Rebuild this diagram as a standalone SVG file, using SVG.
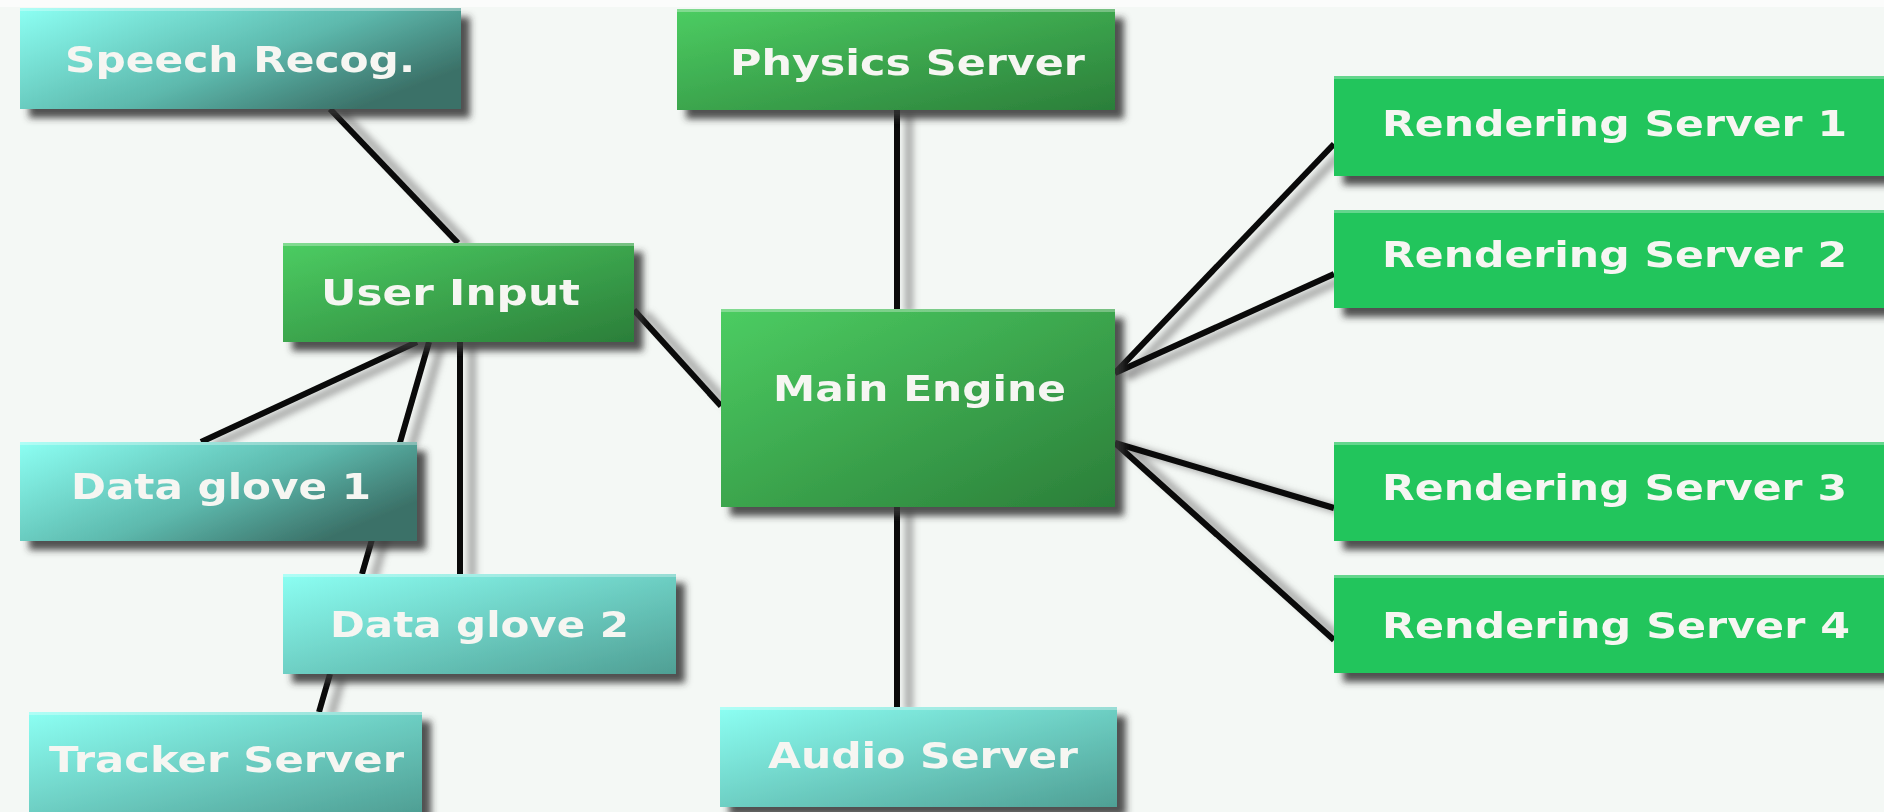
<svg xmlns="http://www.w3.org/2000/svg" width="1884" height="812" viewBox="0 0 1884 812">
<defs>
<linearGradient id="gGreen" x1="0" y1="0" x2="1" y2="1">
<stop offset="0" stop-color="#4ccd62"/>
<stop offset="1" stop-color="#2b7e39"/>
</linearGradient>
<linearGradient id="gTeal" x1="0" y1="0" x2="1" y2="1">
<stop offset="0" stop-color="#8cfff3"/>
<stop offset="1" stop-color="#4f9f94"/>
</linearGradient>
<linearGradient id="gTealDark" x1="0" y1="0" x2="1" y2="0.6">
<stop offset="0" stop-color="#8cfff3"/>
<stop offset="0.6" stop-color="#5db9ad"/>
<stop offset="1" stop-color="#3b7168"/>
</linearGradient>
<filter id="nodeShadow" x="-10%" y="-10%" width="130%" height="140%">
<feGaussianBlur in="SourceAlpha" stdDeviation="3.5"/>
<feOffset dx="9" dy="9" result="b"/>
<feFlood flood-color="#333333" flood-opacity="0.85"/>
<feComposite in2="b" operator="in"/>
<feMerge><feMergeNode/><feMergeNode in="SourceGraphic"/></feMerge>
</filter>
<filter id="lineShadow" x="-20%" y="-20%" width="140%" height="140%">
<feGaussianBlur stdDeviation="3"/>
</filter>
</defs>
<style>
.bg{fill:#f4f8f5}
.box{filter:url(#nodeShadow)}
.green{fill:url(#gGreen)}
.teal{fill:url(#gTeal)}
.tealdark{fill:url(#gTealDark)}
.render{fill:#22c55c}
.hl{fill:#ffffff;opacity:0.3}
.lbl{font-family:"DejaVu Sans","Verdana",sans-serif;font-weight:bold;font-size:35px;fill:#f6f6f2}
.edge{stroke:#0a0a0a;stroke-width:6;fill:none;stroke-linecap:butt}
.edgeShadow{stroke:#8a8a8a;stroke-width:9;fill:none;opacity:0.65}
</style>
<rect class="bg" x="0" y="0" width="1884" height="812"/>
<rect x="0" y="0" width="1884" height="7" fill="#fbfcfb"/>

<g id="connectors">
<g transform="translate(12,4)" filter="url(#lineShadow)">
<line class="edgeShadow" x1="330" y1="109" x2="458" y2="243"/>
<line class="edgeShadow" x1="417" y1="342" x2="201" y2="442"/>
<line class="edgeShadow" x1="429" y1="342" x2="362" y2="574"/>
<line class="edgeShadow" x1="460" y1="342" x2="460" y2="574"/>
<line class="edgeShadow" x1="330" y1="674" x2="319" y2="712"/>
<line class="edgeShadow" x1="634" y1="310" x2="721" y2="406"/>
<line class="edgeShadow" x1="897" y1="110" x2="897" y2="309"/>
<line class="edgeShadow" x1="897" y1="507" x2="897" y2="707"/>
<line class="edgeShadow" x1="1115" y1="373" x2="1334" y2="144"/>
<line class="edgeShadow" x1="1115" y1="373" x2="1334" y2="274"/>
<line class="edgeShadow" x1="1115" y1="443" x2="1334" y2="508"/>
<line class="edgeShadow" x1="1115" y1="443" x2="1334" y2="640"/>
</g>
<line class="edge" x1="330" y1="109" x2="458" y2="243"/>
<line class="edge" x1="417" y1="342" x2="201" y2="442"/>
<line class="edge" x1="429" y1="342" x2="362" y2="574"/>
<line class="edge" x1="460" y1="342" x2="460" y2="574"/>
<line class="edge" x1="330" y1="674" x2="319" y2="712"/>
<line class="edge" x1="634" y1="310" x2="721" y2="406"/>
<line class="edge" x1="897" y1="110" x2="897" y2="309"/>
<line class="edge" x1="897" y1="507" x2="897" y2="707"/>
<line class="edge" x1="1115" y1="373" x2="1334" y2="144"/>
<line class="edge" x1="1115" y1="373" x2="1334" y2="274"/>
<line class="edge" x1="1115" y1="443" x2="1334" y2="508"/>
<line class="edge" x1="1115" y1="443" x2="1334" y2="640"/>
</g>

<g id="speech-recog">
<rect class="box tealdark" x="20" y="8" width="441" height="101"/>
<rect class="hl" x="20" y="8" width="441" height="3"/>
<text class="lbl" x="65" y="72" textLength="350" lengthAdjust="spacingAndGlyphs">Speech Recog.</text>
</g>
<g id="user-input">
<rect class="box green" x="283" y="243" width="351" height="99"/>
<rect class="hl" x="283" y="243" width="351" height="3"/>
<text class="lbl" x="321" y="305" textLength="259" lengthAdjust="spacingAndGlyphs">User Input</text>
</g>
<g id="data-glove-1">
<rect class="box tealdark" x="20" y="442" width="397" height="99"/>
<rect class="hl" x="20" y="442" width="397" height="3"/>
<text class="lbl" x="71" y="499" textLength="300" lengthAdjust="spacingAndGlyphs">Data glove 1</text>
</g>
<g id="data-glove-2">
<rect class="box teal" x="283" y="574" width="393" height="100"/>
<rect class="hl" x="283" y="574" width="393" height="3"/>
<text class="lbl" x="330" y="637" textLength="299" lengthAdjust="spacingAndGlyphs">Data glove 2</text>
</g>
<g id="tracker-server">
<rect class="box teal" x="29" y="712" width="393" height="100"/>
<rect class="hl" x="29" y="712" width="393" height="3"/>
<text class="lbl" x="49" y="772" textLength="355" lengthAdjust="spacingAndGlyphs">Tracker Server</text>
</g>
<g id="physics-server">
<rect class="box green" x="677" y="9" width="438" height="101"/>
<rect class="hl" x="677" y="9" width="438" height="3"/>
<text class="lbl" x="730" y="75" textLength="355" lengthAdjust="spacingAndGlyphs">Physics Server</text>
</g>
<g id="main-engine">
<rect class="box green" x="721" y="309" width="394" height="198"/>
<rect class="hl" x="721" y="309" width="394" height="3"/>
<text class="lbl" x="773" y="401" textLength="293" lengthAdjust="spacingAndGlyphs">Main Engine</text>
</g>
<g id="audio-server">
<rect class="box teal" x="720" y="707" width="397" height="100"/>
<rect class="hl" x="720" y="707" width="397" height="3"/>
<text class="lbl" x="768" y="768" textLength="310" lengthAdjust="spacingAndGlyphs">Audio Server</text>
</g>
<g id="rendering-server-1">
<rect class="box render" x="1334" y="76" width="560" height="100"/>
<rect class="hl" x="1334" y="76" width="560" height="3"/>
<text class="lbl" x="1382" y="136" textLength="465" lengthAdjust="spacingAndGlyphs">Rendering Server 1</text>
</g>
<g id="rendering-server-2">
<rect class="box render" x="1334" y="210" width="560" height="98"/>
<rect class="hl" x="1334" y="210" width="560" height="3"/>
<text class="lbl" x="1382" y="267" textLength="465" lengthAdjust="spacingAndGlyphs">Rendering Server 2</text>
</g>
<g id="rendering-server-3">
<rect class="box render" x="1334" y="442" width="560" height="99"/>
<rect class="hl" x="1334" y="442" width="560" height="3"/>
<text class="lbl" x="1382" y="500" textLength="465" lengthAdjust="spacingAndGlyphs">Rendering Server 3</text>
</g>
<g id="rendering-server-4">
<rect class="box render" x="1334" y="575" width="560" height="98"/>
<rect class="hl" x="1334" y="575" width="560" height="3"/>
<text class="lbl" x="1382" y="638" textLength="468" lengthAdjust="spacingAndGlyphs">Rendering Server 4</text>
</g>
</svg>
